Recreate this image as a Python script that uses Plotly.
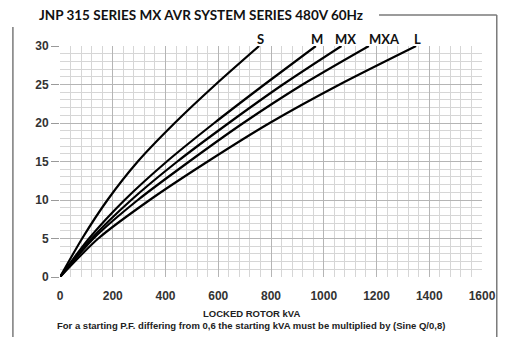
import plotly.graph_objects as go

# Voltage dip (%) vs locked rotor kVA for each alternator frame
dip_pct = [0, 5, 10, 15, 20, 25, 30]
kva_S = [0, 84, 180, 295, 435, 590, 755]
kva_M = [0, 110, 245, 405, 585, 775, 970]
kva_MX = [0, 120, 270, 445, 640, 845, 1067]
kva_MXA = [0, 127, 295, 490, 695, 920, 1171]
kva_L = [0, 145, 340, 560, 795, 1060, 1350]

series = [("S", kva_S), ("M", kva_M), ("MX", kva_MX), ("MXA", kva_MXA), ("L", kva_L)]
label_shift = {"S": 1, "M": 1, "MX": 4, "MXA": 16, "L": 1}

fig = go.Figure()
for name, kva in series:
    fig.add_trace(go.Scatter(
        x=kva, y=dip_pct, mode="lines", name=name,
        line=dict(color="black", width=2.2, shape="spline", smoothing=0.7),
        showlegend=False, hoverinfo="skip",
    ))
    fig.add_annotation(
        x=kva[-1], y=dip_pct[-1], text=f"<b>{name}</b>", showarrow=False,
        xanchor="center", yanchor="bottom", yshift=-3, xshift=label_shift[name],
        font=dict(family="Lato", size=13, color="#111"),
    )

axis_font = dict(family="Liberation Sans", size=12, color="#333", weight="bold")

fig.update_xaxes(
    range=[0, 1600], dtick=200, tick0=0,
    showgrid=True, gridcolor="#b5b5b5", gridwidth=1,
    minor=dict(dtick=40, showgrid=True, gridcolor="#d6d6d6", gridwidth=1),
    ticks="", tickfont=axis_font, ticklabelstandoff=10,
    zeroline=False, showline=False,
)
fig.update_yaxes(
    range=[0, 30], dtick=5, tick0=0,
    showgrid=True, gridcolor="#b5b5b5", gridwidth=1,
    minor=dict(dtick=1, showgrid=True, gridcolor="#d6d6d6", gridwidth=1),
    ticks="outside", ticklen=8, tickcolor="#999", tickfont=axis_font,
    zeroline=False, showline=False,
)

# Axis caption lines under the plot
caption_font = dict(family="Liberation Sans", size=9.5, color="#222")
fig.add_annotation(
    xref="paper", yref="paper", x=0.4535, y=-0.156, xanchor="center", yanchor="middle",
    text="<b>LOCKED ROTOR kVA</b>", showarrow=False, font=caption_font,
)
fig.add_annotation(
    xref="paper", yref="paper", x=0.4535, y=-0.208, xanchor="center", yanchor="middle",
    text="<b>For a starting P.F. differing from 0,6 the starting kVA must be multiplied by (Sine Q/0,8)</b>",
    showarrow=False, font=caption_font,
)

# Frame lines around the chart sheet
frame = dict(type="line", xref="paper", yref="paper", line=dict(color="#7a7a7a", width=1.5))
fig.add_shape(**frame, x0=-0.1116, x1=-0.1116, y0=1.082, y1=-0.27)
fig.add_shape(**frame, x0=0.756, x1=1.035, y0=1.134, y1=1.134)
fig.add_shape(**frame, x0=1.035, x1=1.035, y0=1.134, y1=-0.27)

fig.add_annotation(
    xref="paper", yref="paper", x=-0.0535, y=1.134, xanchor="left", yanchor="middle",
    text="<b>JNP 315 SERIES MX AVR SYSTEM SERIES 480V 60Hz</b>", showarrow=False,
    font=dict(family="Lato", size=13.5, color="#111"),
)

fig.update_layout(
    width=508, height=337,
    margin=dict(l=60, r=18, t=46, b=60),
    paper_bgcolor="white", plot_bgcolor="white",
)

fig.write_html("out.html")
